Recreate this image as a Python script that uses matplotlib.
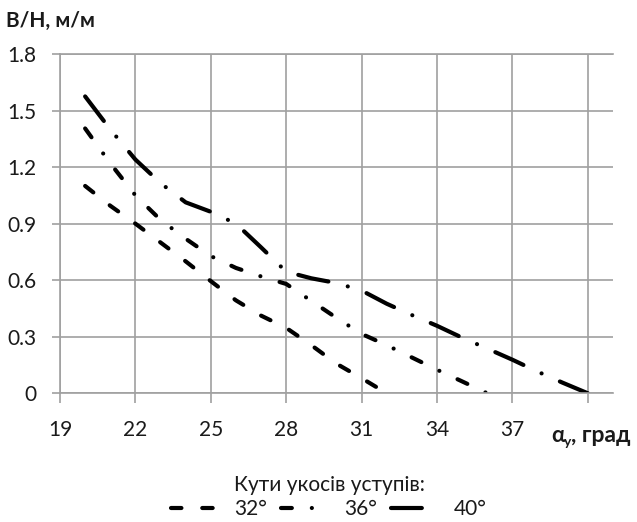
import matplotlib
matplotlib.use("Agg")
import matplotlib.pyplot as plt

# ---- data ----
x32 = [20, 21, 22, 23, 24, 25, 26, 27, 28, 29, 30, 31, 32]
y32 = [1.10, 0.995, 0.90, 0.80, 0.70, 0.595, 0.493, 0.412, 0.347, 0.255, 0.157, 0.08, 0.0]

x36 = [20, 21, 22, 23, 24, 25, 26, 27, 28, 29, 30, 31, 32, 33, 34, 35, 36]
y36 = [1.405, 1.22, 1.05, 0.92, 0.82, 0.728, 0.665, 0.62, 0.58, 0.49, 0.40, 0.315, 0.255, 0.19, 0.125, 0.063, 0.0]

x40 = [20, 21, 22, 23, 24, 25, 26, 27, 28, 29, 30, 31, 32, 33, 34, 35, 36, 37, 38, 39, 40]
y40 = [1.575, 1.40, 1.24, 1.115, 1.013, 0.963, 0.90, 0.774, 0.645, 0.61, 0.585, 0.545, 0.475, 0.415, 0.358, 0.295, 0.237, 0.178, 0.115, 0.056, 0.0]

series_labels = ["32°", "36°", "40°"]
xticks = [19, 22, 25, 28, 31, 34, 37, 40]
xtick_labels = ["19", "22", "25", "28", "31", "34", "37", ""]
yticks = [0, 0.3, 0.6, 0.9, 1.2, 1.5, 1.8]
ytick_labels = ["0", "0.3", "0.6", "0.9", "1.2", "1.5", "1.8"]

FONT = ["Lato", "DejaVu Sans"]
plt.rcParams["font.family"] = FONT
TXT = "#1a1a1a"
GRID = "#a0a0a0"

W, H = 637, 522
fig = plt.figure(figsize=(W / 100, H / 100), dpi=100)
ax = fig.add_axes([60 / W, 1 - 393.3 / H, 553 / W, (393.3 - 54) / H])

lw = 3.0
styles = [
    (0, (2.5, 5.0)),
    (0, (2.6, 4.8, 0.01, 4.8)),
    (0, (7.4, 4.8, 0.01, 4.8)),
]
for xs, ys, ls, lab in zip([x32, x36, x40], [y32, y36, y40], styles, series_labels):
    ax.plot(xs, ys, color="black", lw=lw, linestyle=ls,
            dash_capstyle="round", solid_capstyle="round", label=lab)

ax.set_xlim(19, 41)
ax.set_ylim(0, 1.8)
ax.set_xticks(xticks)
ax.set_xticklabels(xtick_labels)
ax.set_yticks(yticks)
ax.set_yticklabels(ytick_labels)
ax.grid(True, color=GRID, lw=1.2)
ax.set_axisbelow(True)
ax.spines["right"].set_visible(False)
for s in ["left", "bottom", "top"]:
    ax.spines[s].set_color(GRID)
    ax.spines[s].set_linewidth(1.2)
ax.tick_params(axis="y", direction="out", length=5.8, width=1.2, color=GRID,
               labelsize=15, labelcolor=TXT, pad=11)
ax.tick_params(axis="x", direction="out", length=7.2, width=1.2, color=GRID,
               labelsize=15, labelcolor=TXT, pad=12)

# axis titles
fig.text(6 / W, 1 - 21 / H, "В/Н, м/м", ha="left", va="center",
         fontsize=15, fontweight="bold", color=TXT)
fig.text(551 / W, 1 - 442 / H, "α", ha="left", va="baseline",
         fontsize=16, fontweight="bold", color=TXT)
fig.text(564 / W, 1 - 446 / H, "у", ha="left", va="baseline",
         fontsize=10, fontweight="bold", color=TXT)
fig.text(571 / W, 1 - 442 / H, ", град", ha="left", va="baseline",
         fontsize=16.5, fontweight="bold", color=TXT)

handles, labels = ax.get_legend_handles_labels()
leg = fig.legend(handles, labels, loc="lower center", bbox_to_anchor=(329 / W, -0.003),
                 ncol=3, frameon=False, title="Кути укосів уступів:",
                 fontsize=15, title_fontsize=15, handlelength=2.4,
                 columnspacing=0.7, handletextpad=0.6, borderaxespad=0.0,
                 borderpad=0.2, labelspacing=0.2)
for t in leg.get_texts():
    t.set_color(TXT)
leg.get_title().set_color(TXT)

fig.savefig("out.png", dpi=100)
